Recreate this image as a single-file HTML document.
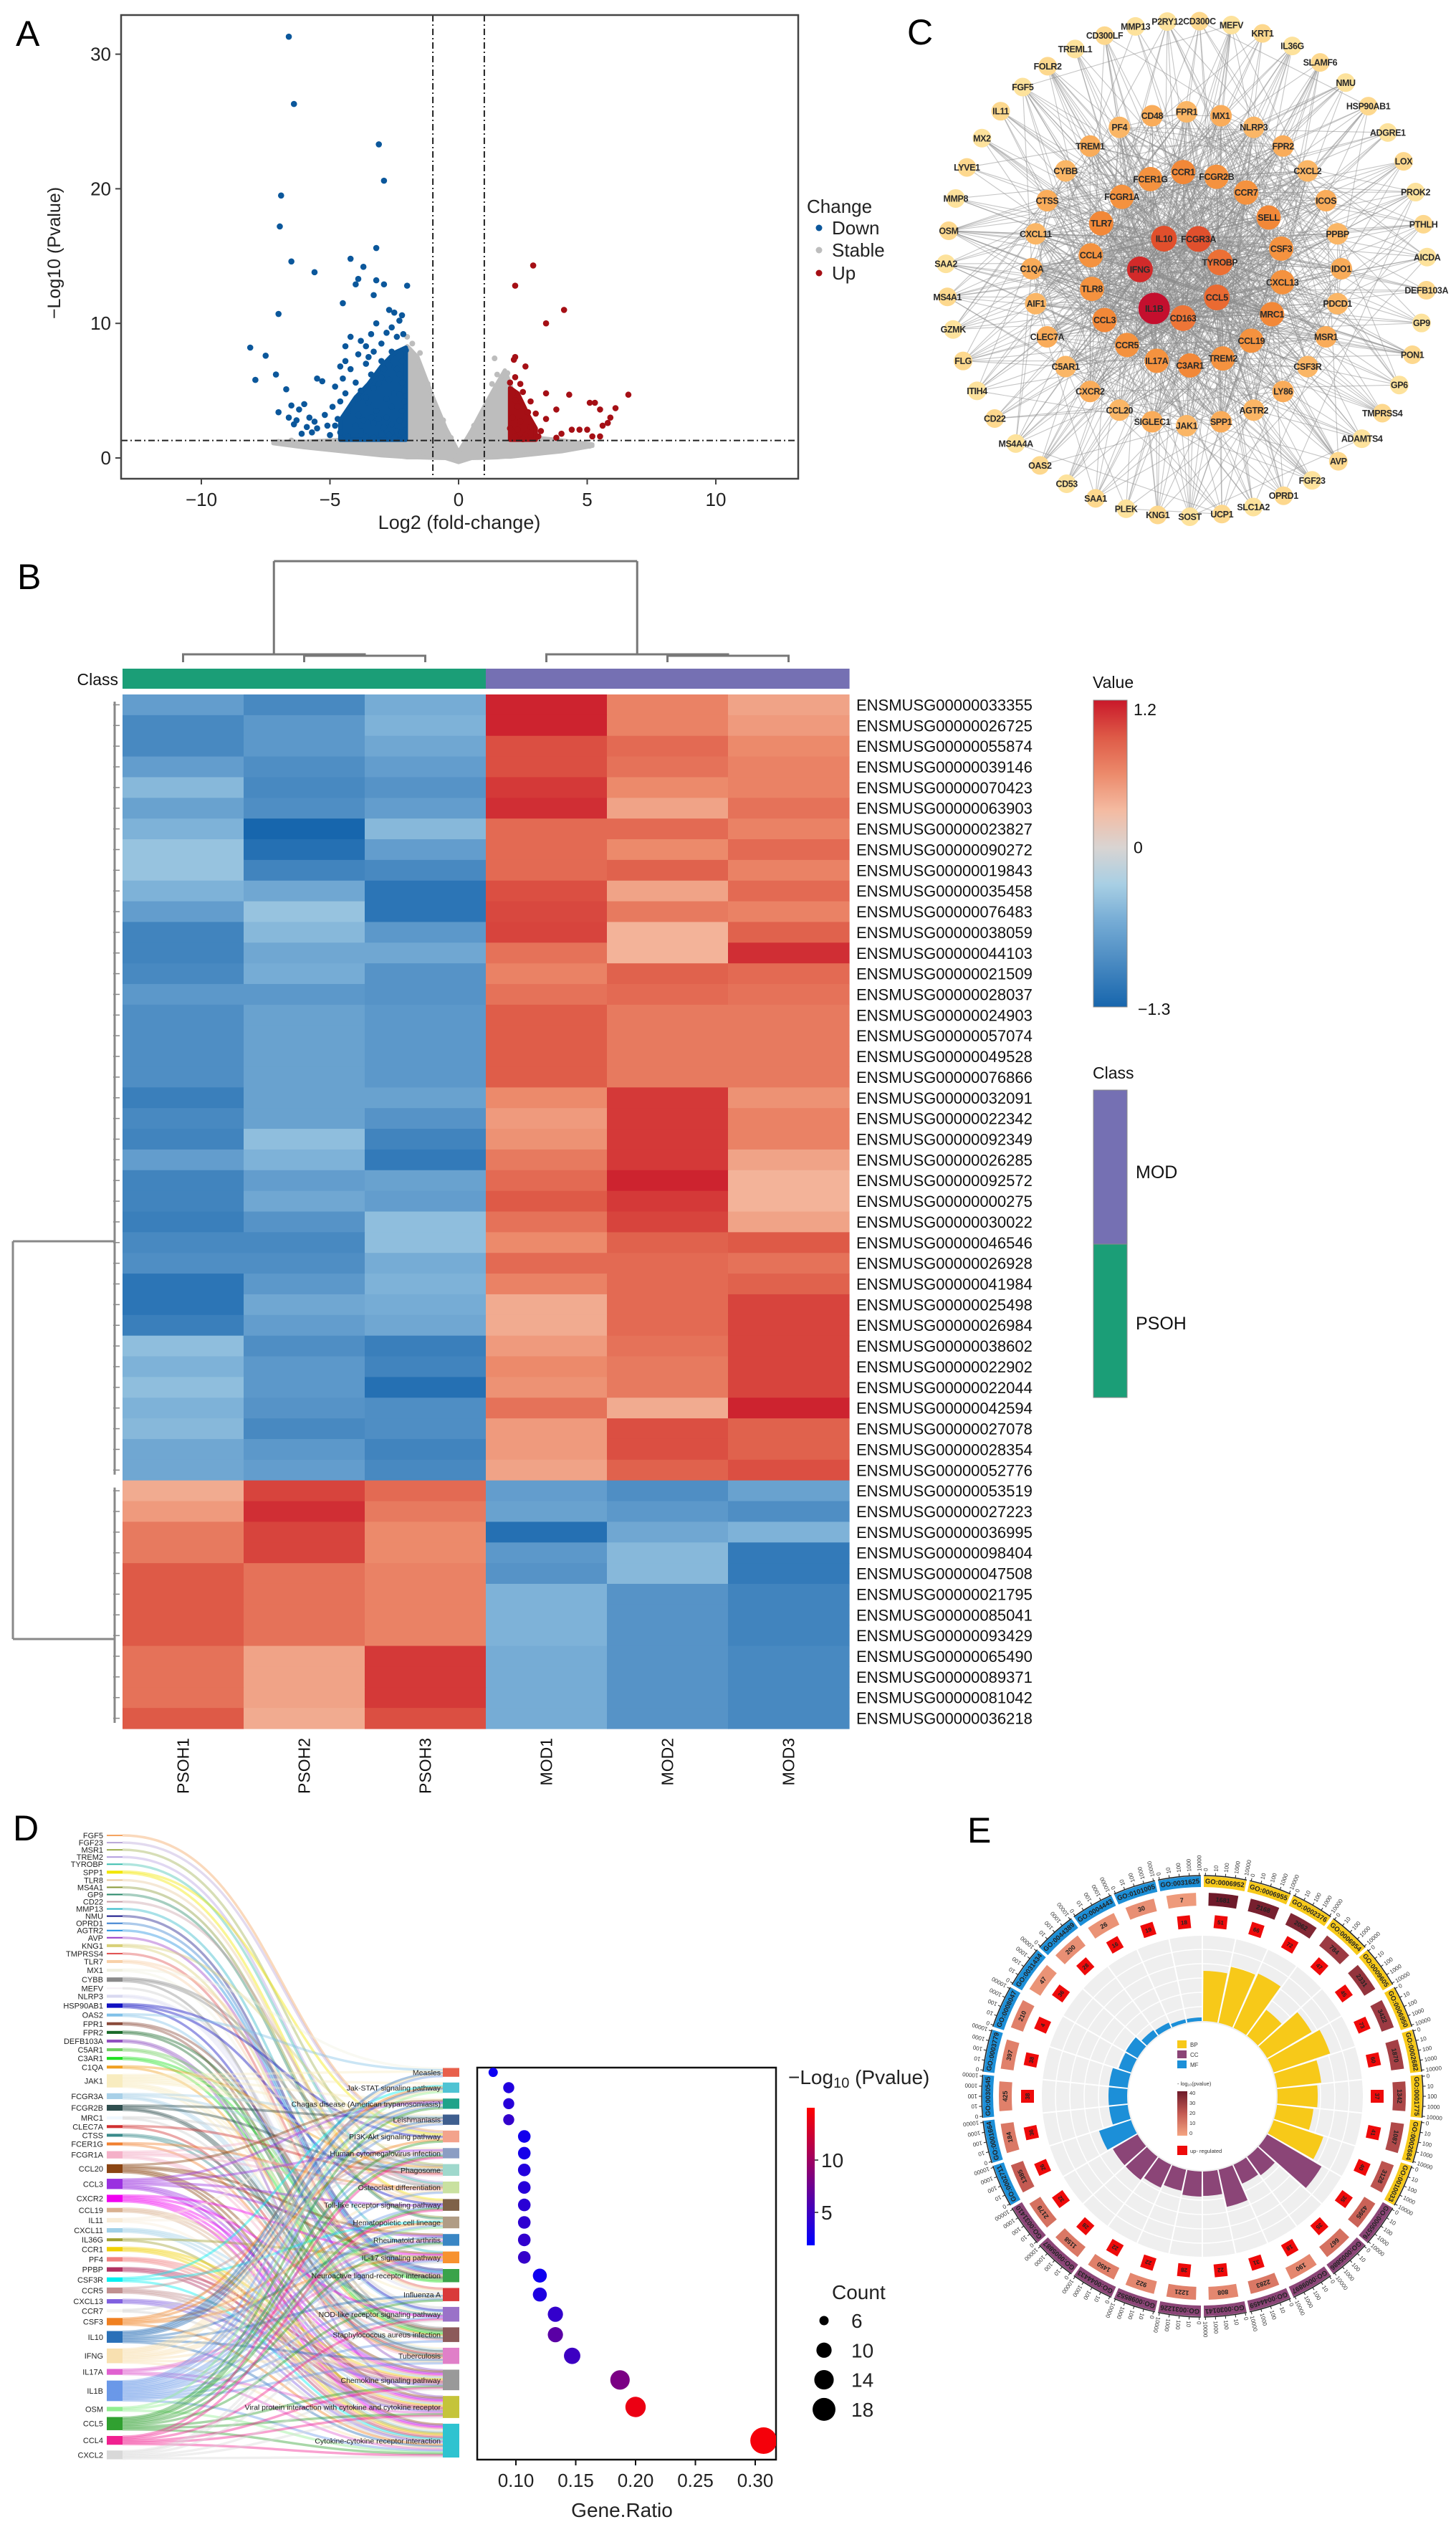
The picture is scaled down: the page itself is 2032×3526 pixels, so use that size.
<!DOCTYPE html>
<html><head><meta charset="utf-8">
<style>
html,body{margin:0;padding:0;background:#fff;}
svg{display:block;font-family:"Liberation Sans",Arial,sans-serif;}
</style></head>
<body>
<svg id="fig" width="2032" height="3526" viewBox="0 0 2032 3526" xmlns="http://www.w3.org/2000/svg">
<rect x="0" y="0" width="2032" height="3526" fill="#fff"/>
<g id="pA"></g>
<g id="pC"></g>
<g id="pB"></g>
<g id="pD"></g>
<g id="pE"></g>
</svg>
<script>
// ===================== DATA =====================
// Panel A: volcano
const downPoints=[[-6.6,31.3],[-6.4,26.3],[-3.1,23.3],[-2.9,20.6],[-6.9,19.5],[-6.95,17.2],[-3.2,15.6],[-6.5,14.6],[-4.2,14.8],[-3.7,14.2],[-5.6,13.8],[-3.9,13.3],[-4.0,12.9],[-3.2,13.2],[-2.9,12.9],[-2.0,12.8],[-3.3,12.1],[-4.5,11.5],[-2.7,11.0],[-2.5,10.8],[-7.0,10.7],[-3.2,10.0],[-2.2,10.6],[-8.1,8.2],[-7.5,7.6],[-7.1,6.2],[-7.9,5.8],[-6.7,5.1],[-7.0,3.4],[-6.5,3.9],[-6.2,3.6],[-5.5,5.9],[-5.3,5.7],[-4.8,5.3],[-4.4,4.8],[-4.2,9.0],[-4.4,8.3],[-3.8,8.7],[-3.6,8.3],[-3.4,9.2],[-2.8,9.3],[-2.4,9.0],[-4.6,6.8],[-4.2,6.6],[-3.6,7.0],[-3.0,7.2],[-2.6,7.9],[-6.0,4.0],[-5.8,3.0],[-5.1,2.4],[-5.5,2.2],[-4.9,3.8],[-6.3,2.8],[-6.1,1.8],[-4.6,1.9],[-4.0,2.4],[-3.9,3.2],[-3.5,4.1],[-3.1,5.5],[-2.7,5.8],[-2.3,6.2],[-2.5,4.8],[-2.2,3.5],[-2.8,3.0],[-3.3,2.6],[-2.4,2.0],[-3.0,1.8],[-3.6,1.6],[-4.3,1.6],[-5.0,1.7],[-2.1,5.0],[-2.1,4.2],[-2.3,2.8],[-2.6,3.8],[-3.2,3.5],[-3.8,5.0],[-4.1,4.1],[-3.4,6.2],[-2.9,6.6],[-2.2,7.2],[-2.1,1.6],[-2.9,2.3],[-3.7,2.8],[-4.7,2.9],[-5.7,1.9],[-2.5,1.5],[-3.4,3.0],[-3.1,2.9],[-2.8,4.4],[-2.6,2.5],[-2.3,4.7],[-2.2,5.6],[-2.4,6.6],[-2.7,6.9],[-3.0,6.0],[-3.3,5.2],[-3.6,4.5],[-3.9,4.4],[-4.3,3.4],[-4.6,4.2],[-3.5,7.5],[-3.9,7.7],[-4.4,7.2],[-2.1,2.5],[-2.2,1.9],[-2.7,1.7],[-3.3,1.5],[-3.8,2.0],[-4.8,2.4],[-5.2,3.2],[-5.6,2.7],[-5.9,2.3],[-6.4,2.5],[-6.6,3.0],[-2.05,8.0],[-2.15,9.2],[-2.3,10.2],[-2.6,9.7],[-3.0,8.5],[-3.3,7.9],[-4.0,5.6],[-4.5,5.9]];
const upPoints=[[2.9,14.3],[2.2,12.8],[4.1,11.0],[3.4,10.0],[2.2,7.5],[2.15,7.3],[2.6,6.8],[2.2,6.0],[2.0,5.6],[2.4,5.5],[3.4,4.8],[4.3,4.7],[6.6,4.7],[2.1,4.8],[2.5,4.9],[2.2,4.3],[2.8,4.2],[5.1,4.1],[5.3,4.1],[6.1,3.7],[2.3,3.8],[2.7,3.4],[3.0,3.3],[3.8,3.6],[5.5,3.6],[2.1,3.0],[2.4,2.7],[3.4,2.9],[5.9,3.0],[2.0,2.2],[2.3,2.1],[2.8,2.3],[3.2,2.0],[4.4,2.1],[4.7,2.1],[5.0,2.1],[5.6,2.4],[5.8,2.6],[2.2,1.6],[2.6,1.7],[3.1,1.6],[3.8,1.5],[5.2,1.6],[5.5,1.6],[4.0,1.8],[2.5,1.4]];
const stablePoints=[[-7.0,1.2],[-6.0,1.1],[-5.2,0.9],[-4.6,0.6],[-4.0,0.8],[-3.4,0.9],[-2.0,9.0],[-1.8,8.5],[-1.5,7.8],[-1.6,6.5],[-1.2,5.5],[-1.0,4.2],[-0.6,2.8],[-0.3,1.5],[0.3,1.2],[0.6,2.4],[1.0,3.6],[1.3,5.5],[1.5,6.2],[1.4,7.4],[1.7,5.1],[1.9,6.3],[3.2,1.2],[3.9,0.9],[4.4,1.0],[5.1,0.9],[-1.9,3.5],[-1.3,2.0],[1.2,1.8],[2.3,1.0],[-2.5,0.7],[-1.5,0.4],[1.5,0.5],[2.8,0.6],[-6.5,1.3],[-5.5,1.0]];
const stableEnvX=[-7.2,-6,-5,-4,-3,-2.2,-2.0,-1.6,-1.0,-0.5,0,0.5,1.0,1.5,1.8,2.0,2.5,3,4,5.2];
const stableEnvTop=[1.2,1.2,1.3,1.4,1.6,3.5,8.3,7.5,4.5,2.2,0.4,2.0,3.8,5.5,6.5,5.5,2.5,1.5,1.3,1.0];
const stableEnvBot=[1.1,0.8,0.6,0.4,0.2,0.1,0.05,0.05,0.02,0,-0.3,0,0.02,0.05,0.1,0.1,0.2,0.3,0.5,0.9];
const downEnvX=[-4.6,-4,-3.5,-3,-2.5,-2.05];
const downEnvTop=[2.8,4.5,5.5,6.8,7.8,8.2];
const downEnvBot=[1.35,1.35,1.35,1.35,1.35,1.35];
const upEnvX=[2.0,2.3,2.7,3.0];
const upEnvTop=[5.2,4.8,3.2,2.2];
const upEnvBot=[1.35,1.35,1.35,1.35];
const volXTicks=[-10,-5,0,5,10];
const volYTicks=[0,10,20,30];
const fcCut=1, pCut=1.3;

// Panel B: heatmap
const sampleNames=["PSOH1","PSOH2","PSOH3","MOD1","MOD2","MOD3"];
const sampleClass=["PSOH","PSOH","PSOH","MOD","MOD","MOD"];
const geneIds=["ENSMUSG00000033355","ENSMUSG00000026725","ENSMUSG00000055874","ENSMUSG00000039146","ENSMUSG00000070423","ENSMUSG00000063903","ENSMUSG00000023827","ENSMUSG00000090272","ENSMUSG00000019843","ENSMUSG00000035458","ENSMUSG00000076483","ENSMUSG00000038059","ENSMUSG00000044103","ENSMUSG00000021509","ENSMUSG00000028037","ENSMUSG00000024903","ENSMUSG00000057074","ENSMUSG00000049528","ENSMUSG00000076866","ENSMUSG00000032091","ENSMUSG00000022342","ENSMUSG00000092349","ENSMUSG00000026285","ENSMUSG00000092572","ENSMUSG00000000275","ENSMUSG00000030022","ENSMUSG00000046546","ENSMUSG00000026928","ENSMUSG00000041984","ENSMUSG00000025498","ENSMUSG00000026984","ENSMUSG00000038602","ENSMUSG00000022902","ENSMUSG00000022044","ENSMUSG00000042594","ENSMUSG00000027078","ENSMUSG00000028354","ENSMUSG00000052776","ENSMUSG00000053519","ENSMUSG00000027223","ENSMUSG00000036995","ENSMUSG00000098404","ENSMUSG00000047508","ENSMUSG00000021795","ENSMUSG00000085041","ENSMUSG00000093429","ENSMUSG00000065490","ENSMUSG00000089371","ENSMUSG00000081042","ENSMUSG00000036218"];
const heatValues=[
[-0.75,-0.95,-0.6,1.15,0.65,0.45],[-0.95,-0.8,-0.55,1.15,0.65,0.5],[-0.95,-0.8,-0.65,0.95,0.8,0.6],[-0.75,-0.9,-0.75,0.95,0.75,0.65],[-0.5,-0.95,-0.85,1.05,0.6,0.65],[-0.7,-0.9,-0.75,1.1,0.45,0.75],[-0.55,-1.3,-0.5,0.8,0.8,0.65],[-0.4,-1.2,-0.75,0.8,0.6,0.8],[-0.4,-1.0,-0.95,0.8,0.85,0.65],[-0.55,-0.65,-1.15,0.95,0.45,0.8],
[-0.75,-0.4,-1.15,0.98,0.7,0.65],[-1.0,-0.5,-0.8,1.0,0.35,0.85],[-1.0,-0.65,-0.65,0.75,0.35,1.1],[-0.95,-0.6,-0.85,0.65,0.85,0.8],[-0.8,-0.8,-0.85,0.75,0.8,0.75],[-0.9,-0.7,-0.8,0.88,0.7,0.7],[-0.9,-0.7,-0.8,0.88,0.7,0.7],[-0.9,-0.7,-0.8,0.88,0.7,0.7],[-0.9,-0.7,-0.8,0.88,0.7,0.7],[-1.05,-0.7,-0.7,0.6,1.05,0.55],
[-0.95,-0.7,-0.85,0.5,1.05,0.65],[-1.0,-0.45,-1.0,0.55,1.05,0.65],[-0.75,-0.55,-1.1,0.7,1.05,0.45],[-1.0,-0.75,-0.7,0.8,1.15,0.35],[-1.0,-0.65,-0.75,0.9,1.05,0.35],[-1.05,-0.85,-0.45,0.75,1.0,0.45],[-0.95,-0.95,-0.45,0.6,0.85,0.9],[-0.9,-0.9,-0.6,0.8,0.8,0.75],[-1.15,-0.8,-0.55,0.65,0.8,0.85],[-1.15,-0.65,-0.6,0.4,0.8,1.0],
[-1.05,-0.75,-0.65,0.4,0.8,1.0],[-0.45,-0.9,-1.05,0.5,0.75,1.0],[-0.55,-0.8,-1.0,0.6,0.7,1.0],[-0.45,-0.8,-1.2,0.55,0.7,1.0],[-0.55,-0.85,-0.9,0.75,0.4,1.15],[-0.5,-0.95,-0.9,0.5,0.95,0.85],[-0.65,-0.8,-1.0,0.5,0.95,0.85],[-0.65,-0.75,-0.95,0.45,0.85,0.95],[0.4,1.0,0.8,-0.75,-0.9,-0.7],[0.5,1.1,0.7,-0.7,-0.8,-0.9],
[0.7,1.0,0.6,-1.2,-0.65,-0.55],[0.7,1.0,0.6,-0.8,-0.5,-1.1],[0.9,0.75,0.65,-0.85,-0.5,-1.1],[0.9,0.75,0.65,-0.55,-0.85,-1.0],[0.9,0.75,0.65,-0.55,-0.85,-1.0],[0.9,0.75,0.65,-0.55,-0.85,-1.0],[0.75,0.45,1.05,-0.6,-0.85,-0.95],[0.75,0.45,1.05,-0.6,-0.85,-0.95],[0.75,0.45,1.05,-0.6,-0.85,-0.95],[0.9,0.4,0.95,-0.6,-0.85,-0.95]];
const clusterSplit=38;
const valueTicks=[1.2,0,-1.3];

// Panel C: network
const coreNodes=["IL10","FCGR3A","TYROBP","CCL5","CD163","IL1B","IFNG"];
const coreColors=["#e14f2c","#e0502d","#ec7035","#ea6a32","#ee7537","#c40f2e","#d22a2a"];
const innerNodes=["CCR1","FCGR2B","CCR7","SELL","CSF3","CXCL13","MRC1","CCL19","TREM2","C3AR1","IL17A","CCR5","CCL3","TLR8","CCL4","TLR7","FCGR1A","FCER1G"];
const middleNodes=["FPR1","MX1","NLRP3","FPR2","CXCL2","ICOS","PPBP","IDO1","PDCD1","MSR1","CSF3R","LY86","AGTR2","SPP1","JAK1","SIGLEC1","CCL20","CXCR2","C5AR1","CLEC7A","AIF1","C1QA","CXCL11","CTSS","CYBB","TREM1","PF4","CD48"];
const outerNodes=["P2RY12","CD300C","MEFV","KRT1","IL36G","SLAMF6","NMU","HSP90AB1","ADGRE1","LOX","PROK2","PTHLH","AICDA","DEFB103A","GP9","PON1","GP6","TMPRSS4","ADAMTS4","AVP","FGF23","OPRD1","SLC1A2","UCP1","SOST","KNG1","PLEK","SAA1","CD53","OAS2","MS4A4A","CD22","ITIH4","FLG","GZMK","MS4A1","SAA2","OSM","MMP8","LYVE1","MX2","IL11","FGF5","FOLR2","TREML1","CD300LF","MMP13"];

// Panel D: sankey + dot plot
const sankeyGenes=["FGF5","FGF23","MSR1","TREM2","TYROBP","SPP1","TLR8","MS4A1","GP9","CD22","MMP13","NMU","OPRD1","AGTR2","AVP","KNG1","TMPRSS4","TLR7","MX1","CYBB","MEFV","NLRP3","HSP90AB1","OAS2","FPR1","FPR2","DEFB103A","C5AR1","C3AR1","C1QA","JAK1","FCGR3A","FCGR2B","MRC1","CLEC7A","CTSS","FCER1G","FCGR1A","CCL20","CCL3","CXCR2","CCL19","IL11","CXCL11","IL36G","CCR1","PF4","PPBP","CSF3R","CCR5","CXCL13","CCR7","CSF3","IL10","IFNG","IL17A","IL1B","OSM","CCL5","CCL4","CXCL2"];
const geneLinks=["e","e","g","h","h","ei","i","j","j","h","l","m","m","m","m","em","n","in","an","ghp","o","no","eio","ao","mp","mp","rs","mp","mp","gp","abcdefnoq","dgpq","dgpq","gq","gq","oq","hq","dghpq","cklrst","cfikrst","lorst","rst","bjt","rst","lt","rst","rst","rst","bjt","frst","rst","ft","bejlt","abcdknqt","abcdhjknqt","klst","acdfhijklnopqt","bjt","cefiknrst","fiorst","klorst"];
const geneColors=['#f4a460','#b9a8d8','#9fb050','#b4a0e0','#40c0b0','#f2e600','#e8c89a','#8a9a3a','#2a8a6a','#c8a0a8','#30b8c8','#1a1a8a','#3a80d0','#2090e0','#9a40c8','#d8d078','#e05050','#f8d0a8','#f0f0e0','#8a8a8a','#f4f0f4','#d8d8f0','#1010c0','#80c0e8','#8a4a3a','#1a6a2a','#9050c0','#70d060','#20e020','#f0a020','#f8ecc0','#a8d0e8','#2f4f4f','#f0f8ff','#d03030','#3a8a8a','#f08030','#f4b0c8','#8b4513','#9a30e0','#f000f0','#d8b090','#f8ecd8','#a0d0e8','#a0a030','#f0d000','#f08080','#b03060','#00f0f0','#c09090','#8060e0','#f4f4f0','#f08020','#2a70b8','#f8e0b0','#e060d0','#6a98e8','#90ee90','#30a030','#f02090','#d8d8d8'];
const pathwayNames=["Measles","Jak-STAT signaling pathway","Chagas disease (American trypanosomiasis)","Leishmaniasis","PI3K-Akt signaling pathway","Human cytomegalovirus infection","Phagosome","Osteoclast differentiation","Toll-like receptor signaling pathway","Hematopoietic cell lineage","Rheumatoid arthritis","IL-17 signaling pathway","Neuroactive ligand-receptor interaction","Influenza A","NOD-like receptor signaling pathway","Staphylococcus aureus infection","Tuberculosis","Chemokine signaling pathway","Viral protein interaction with cytokine and cytokine receptor","Cytokine-cytokine receptor interaction"];
const pathwayColors=["#e8604c","#4fc3d3","#1fa38a","#3f5f8f","#f3a38c","#8b9dc3","#9fd8cc","#c9e1a0","#7e6148","#b09c85","#3a86c4","#f7922f","#3aa34a","#d93a3a","#9a72c8","#8c5a5a","#e07fc8","#999999","#c5c43a","#2ec3d0"];
const pathwayCount=[6,7,7,7,8,8,8,8,8,8,8,8,9,9,10,10,11,14,15,23];
const pathwayRatio=[0.081,0.094,0.094,0.094,0.107,0.107,0.107,0.107,0.107,0.107,0.107,0.107,0.120,0.120,0.133,0.133,0.147,0.187,0.200,0.307];
const pathwayPval=[2.5,3.5,3.8,4.5,2.8,3.0,3.6,3.8,4.0,4.2,4.4,4.6,2.6,3.4,4.5,6.5,5.0,8.2,14.0,14.5];
const ratioTicks=[0.10,0.15,0.20,0.25,0.30];
const pvalTicks=[5,10];
const countLegend=[6,10,14,18];

// Panel E: GO circle
const goIds=["GO:0006952","GO:0006955","GO:0002376","GO:0006954","GO:0009605","GO:0006950","GO:0002682","GO:0001775","GO:0002684","GO:0010033","GO:0005576","GO:0005886","GO:0009897","GO:0044459","GO:0030141","GO:0031226","GO:0098552","GO:0044433","GO:0005887","GO:0031410","GO:0002711","GO:0001664","GO:0030545","GO:0003779","GO:0008047","GO:0031434","GO:0044389","GO:0004443","GO:0101005","GO:0031625"];
const goCategory=["BP","BP","BP","BP","BP","BP","BP","BP","BP","BP","CC","CC","CC","CC","CC","CC","CC","CC","CC","CC","MF","MF","MF","MF","MF","MF","MF","MF","MF","MF"];
const goBar=[70,80,83,45,72,83,62,56,51,73,88,32,29,53,34,35,30,35,40,40,47,26,26,26,18,19,10,8,5,5];
const goCount=[1681,2168,2062,784,2331,3422,1870,1342,1087,3128,4395,667,190,2283,808,1221,922,1450,1158,2179,1385,184,425,397,210,47,200,26,30,7];
const goPval=[40,38,36,30,32,30,28,26,25,22,18,14,8,12,8,10,8,10,12,14,20,12,10,10,10,5,6,5,6,3];
const goUp=[51,66,72,47,45,73,60,37,41,40,35,35,18,31,22,28,22,22,28,32,26,36,38,38,4,36,28,16,19,18];
const axisTickLabels=["0","10","100","1000","10000"];

// ===================== HELPERS =====================
const NS="http://www.w3.org/2000/svg";
function mk(tag,attrs,parent){const e=document.createElementNS(NS,tag);for(const k in attrs)e.setAttribute(k,attrs[k]);if(parent)parent.appendChild(e);return e;}
function txt(s,attrs,parent){const e=mk("text",attrs,parent);e.textContent=s;return e;}
function lerpColor(stops,v){ // stops [[v,'#rrggbb']]
  if(v<=stops[0][0])return stops[0][1];
  for(let i=1;i<stops.length;i++){if(v<=stops[i][0]){const a=stops[i-1],b=stops[i];const t=(v-a[0])/(b[0]-a[0]);const ca=hex(a[1]),cb=hex(b[1]);return "rgb("+ca.map((c,j)=>Math.round(c+(cb[j]-c)*t)).join(",")+")";}}
  return stops[stops.length-1][1];}
function hex(h){return [parseInt(h.substr(1,2),16),parseInt(h.substr(3,2),16),parseInt(h.substr(5,2),16)];}

// ===================== PANEL A =====================
(function(){
const g=document.getElementById("pA");
const xA=v=>640+v*35.9, yA=v=>639-v*18.78;
let t=txt("A",{x:22,y:64,"font-size":50},g);


const clip=mk("clipPath",{id:"clipA"},g);mk("rect",{x:169,y:21,width:945,height:647},clip);
const pg=mk("g",{"clip-path":"url(#clipA)"},g);
function env(xs,top,bot,fill,name){let d="M"+xs.map((x,i)=>xA(x)+","+yA(top[i])).join(" L");for(let i=xs.length-1;i>=0;i--)d+=" L"+xA(xs[i])+","+yA(bot[i]);d+="Z";const p=mk("path",{d:d,fill:fill,stroke:fill,"stroke-width":6,"stroke-linejoin":"round"},pg);

}
env(stableEnvX,stableEnvTop,stableEnvBot,"#bdbdbd","stable-density");
stablePoints.forEach(p=>{const c=mk("circle",{cx:xA(p[0]),cy:yA(p[1]),r:4,fill:"#bdbdbd"},pg);

});
env(downEnvX,downEnvTop,downEnvBot,"#0b579b","down-density");
env(upEnvX,upEnvTop,upEnvBot,"#a50f15","up-density");
downPoints.forEach(p=>{const c=mk("circle",{cx:xA(p[0]),cy:yA(p[1]),r:4.3,fill:"#0b579b"},pg);

});
upPoints.forEach(p=>{const c=mk("circle",{cx:xA(p[0]),cy:yA(p[1]),r:4.3,fill:"#a50f15"},pg);

});
[-fcCut,fcCut].forEach(v=>{const l=mk("line",{x1:xA(v),x2:xA(v),y1:21,y2:668,stroke:"#222","stroke-width":2,"stroke-dasharray":"9,4,2,4"},pg);

});
let hl=mk("line",{x1:169,x2:1114,y1:yA(pCut),y2:yA(pCut),stroke:"#222","stroke-width":2,"stroke-dasharray":"9,4,2,4"},pg);


let box=mk("rect",{x:169,y:21,width:945,height:647,fill:"none",stroke:"#444","stroke-width":2.5},g);


volXTicks.forEach(v=>{mk("line",{x1:xA(v),x2:xA(v),y1:668,y2:676,stroke:"#444","stroke-width":2},g);
const l=txt((v<0?"\u2212":"")+Math.abs(v),{x:xA(v),y:706,"text-anchor":"middle","font-size":26,fill:"#222"},g);

});
volYTicks.forEach(v=>{mk("line",{x1:161,x2:169,y1:yA(v),y2:yA(v),stroke:"#444","stroke-width":2},g);
const l=txt(String(v),{x:155,y:yA(v)+9,"text-anchor":"end","font-size":26,fill:"#222"},g);

});
t=txt("Log2 (fold-change)",{x:641,y:738,"text-anchor":"middle","font-size":27,fill:"#222"},g);


t=txt("\u2212Log10 (Pvalue)",{x:0,y:0,"text-anchor":"middle","font-size":25,fill:"#222",transform:"translate(84,353) rotate(-90)"},g);


t=txt("Change",{x:1126,y:297,"font-size":26,fill:"#222"},g);


[["Down","#0b579b",327],["Stable","#bdbdbd",358],["Up","#a50f15",390]].forEach(e=>{
const lg=mk("g",{},g);


mk("circle",{cx:1143,cy:e[2]-9,r:4.5,fill:e[1]},lg);txt(e[0],{x:1161,y:e[2],"font-size":26,fill:"#222"},lg);});
})();

// ===================== PANEL C =====================
(function(){
const g=document.getElementById("pC");
let t=txt("C",{x:1266,y:62,"font-size":50},g);


const cx=1656,cy=375;
const nodes=[];
const coreAng=[-24,25,70,120,177,220,280];
coreNodes.forEach((n,i)=>{const a=coreAng[i]*Math.PI/180;nodes.push({n:n,lv:0,x:1648+58*Math.sin(a),y:386-58*Math.cos(a),r:n==="IL1B"?22:18,c:coreColors[i]});});
innerNodes.forEach((n,i)=>{const a=(-2+i*360/innerNodes.length)*Math.PI/180;nodes.push({n:n,lv:1,x:cx+135*Math.sin(a),y:cy-135*Math.cos(a),r:17,c:i%3===0?"#f28838":"#f4923f"});});
middleNodes.forEach((n,i)=>{const a=(i*360/middleNodes.length)*Math.PI/180;nodes.push({n:n,lv:2,x:cx+216*Math.sin(a),y:cy-219*Math.cos(a),r:15,c:i%2?"#f9ac5a":"#fab666"});});
outerNodes.forEach((n,i)=>{const a=(-4.6+i*360/outerNodes.length)*Math.PI/180;nodes.push({n:n,lv:3,x:cx+336*Math.sin(a),y:cy-346*Math.cos(a),r:13,c:i%2?"#fdd88e":"#fde29c"});});
const P=[[1,.9,.8,.5],[.9,.55,.4,.14],[.8,.4,.22,.08],[.5,.14,.08,.01]];
const eg=mk("g",{stroke:"#8c8c8c","stroke-width":1.1,"stroke-opacity":0.5},g);


for(let i=0;i<nodes.length;i++)for(let j=i+1;j<nodes.length;j++){
 const h=(((i+1)*73856093)^((j+1)*19349663))>>>0; const u=(h%1000)/1000;
 if(u<P[nodes[i].lv][nodes[j].lv]) mk("line",{x1:nodes[i].x.toFixed(1),y1:nodes[i].y.toFixed(1),x2:nodes[j].x.toFixed(1),y2:nodes[j].y.toFixed(1)},eg);}
nodes.forEach(nd=>{const ng=mk("g",{},g);


mk("circle",{cx:nd.x,cy:nd.y,r:nd.r,fill:nd.c},ng);
txt(nd.n,{x:nd.x,y:nd.y+4.5,"text-anchor":"middle","font-size":12.5,"font-weight":"bold",fill:"#2a2a2a","letter-spacing":"-0.4"},ng);});
})();

// ===================== PANEL B =====================
(function(){
const g=document.getElementById("pB");
let t=txt("B",{x:24,y:822,"font-size":50},g);


const x0=171,cw=169,y0=969,rh=28.86;
const stops=[[-1.3,"#1766ad"],[-0.9,"#4f8ec4"],[-0.6,"#76acd5"],[-0.3,"#a8cfe4"],[0,"#d9d4d2"],[0.3,"#f4bba2"],[0.6,"#ec8a6b"],[0.9,"#de5a47"],[1.2,"#c9182a"]];
const hg=mk("g",{},g);


heatValues.forEach((row,r)=>row.forEach((v,c)=>{const rc=mk("rect",{x:x0+c*cw,y:y0+r*rh,width:cw+0.6,height:rh+0.6,fill:lerpColor(stops,v)},hg);

}));
geneIds.forEach((n,r)=>{const l=txt(n,{x:1195,y:y0+r*rh+rh/2+8,"font-size":22,fill:"#111"},g);

});
sampleNames.forEach((n,c)=>{const l=txt(n,{x:0,y:0,"text-anchor":"end","font-size":23,fill:"#111",transform:"translate("+(x0+c*cw+cw/2+8)+",2425) rotate(-90)"},g);


const cb=mk("rect",{x:x0+c*cw,y:933,width:cw+0.6,height:28,fill:sampleClass[c]==="PSOH"?"#1b9e77":"#7570b3"},g);

});
t=txt("Class",{x:165,y:956,"text-anchor":"end","font-size":23,fill:"#111"},g);


// column dendrogram
const cxs=sampleNames.map((_,c)=>x0+c*cw+cw/2);
const dg=mk("g",{stroke:"#777","stroke-width":3,fill:"none"},g);


[[0,1,2],[3,4,5]].forEach(gr=>{const a=cxs[gr[0]],b=cxs[gr[1]],c=cxs[gr[2]];const m=(b+c)/2,top=(a+m)/2;
mk("path",{d:`M${b},924V915H${c}V924 M${a},924V913H${m}V915 M${top},913V783`},dg);});
mk("path",{d:`M${(cxs[0]+(cxs[1]+cxs[2])/2)/2},783H${(cxs[3]+(cxs[4]+cxs[5])/2)/2}`},dg);
// row dendrogram
const rg=mk("g",{stroke:"#888","stroke-width":3,fill:"none"},g);


const yEnd=y0+heatValues.length*rh, ySplit=y0+clusterSplit*rh;
mk("path",{d:`M160,${y0+10}V${ySplit-8} M160,${ySplit+10}V${yEnd-8} M18,1732V2287 M18,1732H160 M18,2287H160`},rg);
for(let r=0;r<heatValues.length;r++)mk("line",{x1:158,x2:167,y1:y0+r*rh+rh/2,y2:y0+r*rh+rh/2,"stroke-width":1.5},rg);
// value legend
t=txt("Value",{x:1525,y:960,"font-size":23,fill:"#111"},g);


const defs=mk("defs",{},g);const lgr=mk("linearGradient",{id:"valGrad",x1:0,y1:0,x2:0,y2:1},defs);
const vmax=1.2,vmin=-1.3;
stops.slice().reverse().forEach(s=>mk("stop",{offset:((vmax-s[0])/(vmax-vmin)),"stop-color":s[1]},lgr));
const cbar=mk("rect",{x:1526,y:977,width:47,height:428,fill:"url(#valGrad)",stroke:"#888","stroke-width":1},g);


valueTicks.forEach(v=>{const yy=977+(vmax-v)/(vmax-vmin)*428;const l=txt(v<0?"\u2212"+Math.abs(v):String(v),{x:v<0?1588:1582,y:v===vmax?998:(v===vmin?1416:yy+8),"font-size":23,fill:"#111"},g);

});
t=txt("Class",{x:1525,y:1505,"font-size":23,fill:"#111"},g);


let r1=mk("rect",{x:1526,y:1521,width:47,height:215,fill:"#7570b3",stroke:"#888","stroke-width":1},g);


let r2=mk("rect",{x:1526,y:1736,width:47,height:214,fill:"#1b9e77",stroke:"#888","stroke-width":1},g);


t=txt("MOD",{x:1585,y:1644,"font-size":25,fill:"#111"},g);


t=txt("PSOH",{x:1585,y:1855,"font-size":25,fill:"#111"},g);


})();

// ===================== PANEL D =====================
(function(){
const g=document.getElementById("pD");
let t=txt("D",{x:18,y:2568,"font-size":50},g);


const unit=2.05;
const pIdx=ch=>ch.charCodeAt(0)-97;
// gene positions
const gTop=[];let y=2560;const gGap=8.0;
sankeyGenes.forEach((n,i)=>{gTop.push(y);y+=geneLinks[i].length*unit+gGap;});
// pathway sizes from links
const pTot=pathwayNames.map(()=>0);
geneLinks.forEach(s=>s.split("").forEach(ch=>pTot[pIdx(ch)]++));
const pTop=[];y=2885.5;pathwayNames.forEach((n,i)=>{pTop.push(y);y+=pTot[i]*unit+8;});
const pCenter=pTop.map((v,i)=>v+pTot[i]*unit/2);
// links
const lg=mk("g",{fill:"none","stroke-opacity":0.42,"stroke-width":3.4},g);


const pOff=pathwayNames.map(()=>0);
sankeyGenes.forEach((n,i)=>{geneLinks[i].split("").forEach((ch,k)=>{const p=pIdx(ch);
 const y0=gTop[i]+k*unit+unit/2, y1=pTop[p]+pOff[p]*unit+unit/2; pOff[p]++;
 const x0=171,x1=618,xm=(x0+x1)/2;
 const pth=mk("path",{d:`M${x0},${y0.toFixed(1)} C${xm},${y0.toFixed(1)} ${xm},${y1.toFixed(1)} ${x1},${y1.toFixed(1)}`,stroke:geneColors[i]==="#f0f8ff"||geneColors[i]==="#f4f4f0"||geneColors[i]==="#f4f0f4"?"#cccccc":geneColors[i]},lg);
 
 });});
sankeyGenes.forEach((n,i)=>{const h=geneLinks[i].length*unit;
 const b=mk("rect",{x:149,y:gTop[i],width:22,height:h,fill:geneColors[i]},g);
 
 
 const l=txt(n,{x:144,y:gTop[i]+h/2+4,"text-anchor":"end","font-size":11,fill:"#222"},g);
 
 });
pathwayNames.forEach((n,i)=>{const h=pTot[i]*unit;
 const b=mk("rect",{x:618,y:pTop[i],width:23,height:h,fill:pathwayColors[i]},g);
 
 
 const l=txt(n,{x:615,y:pCenter[i]+4,"text-anchor":"end","font-size":10.5,fill:"#222"},g);
 
 });
// dot plot
const xR=v=>720+(v-0.1)*1670;
const pvMin=1.85,pvMax=15;
const pvColor=v=>{const tt=Math.max(0,Math.min(1,(v-pvMin)/(pvMax-pvMin)));return "rgb("+Math.round(255*tt)+",0,"+Math.round(255*(1-tt))+")";};
const rC=c=>Math.sqrt(Math.max(4,-65+17.8*c));
const fr=mk("rect",{x:666,y:2885,width:417,height:547,fill:"none",stroke:"#111","stroke-width":2.5},g);


const cl=mk("clipPath",{id:"clipD"},g);mk("rect",{x:666,y:2885,width:417,height:547},cl);
const dg=mk("g",{"clip-path":"url(#clipD)"},g);
pathwayNames.forEach((n,i)=>{const d=mk("circle",{cx:xR(pathwayRatio[i]),cy:pCenter[i],r:rC(pathwayCount[i]),fill:pvColor(pathwayPval[i])},dg);
 
 });
ratioTicks.forEach(v=>{mk("line",{x1:xR(v),x2:xR(v),y1:3432,y2:3440,stroke:"#111","stroke-width":2},g);
 const l=txt(v.toFixed(2),{x:xR(v),y:3470,"text-anchor":"middle","font-size":26,fill:"#222"},g);
 
 });
t=txt("Gene.Ratio",{x:868,y:3512,"text-anchor":"middle","font-size":28,fill:"#222"},g);


t=mk("text",{x:1100,y:2908,"font-size":28,fill:"#222"},g);
t.innerHTML='\u2212Log<tspan baseline-shift="-25%" font-size="20">10</tspan> (Pvalue)';


const defs=mk("defs",{},g);const gr=mk("linearGradient",{id:"pvGrad",x1:0,y1:1,x2:0,y2:0},defs);
[0,0.5,1].forEach(o=>mk("stop",{offset:o,"stop-color":pvColor(pvMin+o*(pvMax-pvMin))},gr));
const cb=mk("rect",{x:1126,y:2941,width:11,height:192,fill:"url(#pvGrad)"},g);


const yP=v=>3133-(v-pvMin)/(pvMax-pvMin)*192;
pvalTicks.forEach(v=>{mk("line",{x1:1137,x2:1142,y1:yP(v),y2:yP(v),stroke:"#222","stroke-width":1.5},g);
 const l=txt(String(v),{x:1146,y:yP(v)+10,"font-size":28,fill:"#222"},g);
 
 });
t=txt("Count",{x:1161,y:3208,"font-size":28,fill:"#222"},g);


countLegend.forEach((c,i)=>{const yy=3248+i*41.3;const e=mk("g",{},g);
 
 
 mk("circle",{cx:1150,cy:yy-10,r:rC(c),fill:"#000"},e);txt(String(c),{x:1188,y:yy,"font-size":28,fill:"#222"},e);});
})();

// ===================== PANEL E =====================
(function(){
const g=document.getElementById("pE");
let t=txt("E",{x:1350,y:2571,"font-size":50},g);


const cx=1678,cy=2925,N=goIds.length,seg=360/N;
const P=(r,a)=>[cx+r*Math.sin(a*Math.PI/180),cy-r*Math.cos(a*Math.PI/180)];
function sector(r0,r1,a0,a1){const p1=P(r1,a0),p2=P(r1,a1),p3=P(r0,a1),p4=P(r0,a0);const lf=(a1-a0)>180?1:0;
 return `M${p1[0].toFixed(1)},${p1[1].toFixed(1)} A${r1},${r1} 0 ${lf} 1 ${p2[0].toFixed(1)},${p2[1].toFixed(1)} L${p3[0].toFixed(1)},${p3[1].toFixed(1)} A${r0},${r0} 0 ${lf} 0 ${p4[0].toFixed(1)},${p4[1].toFixed(1)}Z`;}
const catColor={BP:"#f7c919",CC:"#8b4577",MF:"#1c8fd8"};
const bg=mk("circle",{cx:cx,cy:cy,r:224,fill:"#efefef"},g);


for(let k=1;k<=5;k++)mk("circle",{cx:cx,cy:cy,r:105+k*20,fill:"none",stroke:"#fff","stroke-width":1.5},g);
for(let i=0;i<N;i++){const a=P(105,i*seg),b=P(224,i*seg);mk("line",{x1:a[0],y1:a[1],x2:b[0],y2:b[1],stroke:"#fff","stroke-width":2},g);}
mk("circle",{cx:cx,cy:cy,r:103,fill:"#fff"},g);
const sc=1.0;
goIds.forEach((id,i)=>{const a0=i*seg,a1=(i+1)*seg,am=a0+seg/2;
 const bar=mk("path",{d:sector(105,105+goBar[i]*sc,a0+0.5,a1-0.5),fill:catColor[goCategory[i]]},g);
 
 
 // up-regulated squares
 const sp=P(244,am);const sq=mk("g",{transform:`translate(${sp[0].toFixed(1)},${sp[1].toFixed(1)}) rotate(${am})`},g);
 
 
 mk("rect",{x:-9,y:-9,width:18,height:18,fill:"#ee0a0a"},sq);
 txt(String(goUp[i]),{x:0,y:3,"text-anchor":"middle","font-size":8,"font-weight":"bold",fill:"#222"},sq);
 // count boxes
 const cbx=mk("path",{d:sector(266,284,a0+1.8,a1-1.8),fill:lerpColor([[0,"#f4a582"],[10,"#e0806a"],[20,"#c45a52"],[30,"#9c3a42"],[40,"#6e1a2a"]],goPval[i])},g);
 
 
 const cp=P(275,am);const ct=txt(String(goCount[i]),{x:0,y:3,"text-anchor":"middle","font-size":9,"font-weight":"bold",fill:"#222",transform:`translate(${cp[0].toFixed(1)},${cp[1].toFixed(1)}) rotate(${am})`},g);
 
 
 // outer band
 const band=mk("path",{d:sector(292,307,a0+0.4,a1-0.4),fill:catColor[goCategory[i]]},g);
 
 
 const bp=P(299.5,am);const bt=txt(id,{x:0,y:3.5,"text-anchor":"middle","font-size":9.5,"font-weight":"bold",fill:"#222",transform:`translate(${bp[0].toFixed(1)},${bp[1].toFixed(1)}) rotate(${am})`},g);
 
 
 // axis arc & ticks
 const q0=P(308,a0+0.4),q1=P(308,a1-0.4);
 mk("path",{d:`M${q0[0].toFixed(1)},${q0[1].toFixed(1)} A308,308 0 0 1 ${q1[0].toFixed(1)},${q1[1].toFixed(1)}`,fill:"none",stroke:"#222","stroke-width":1.5},g);
 axisTickLabels.forEach((s,k)=>{const aa=a0+0.8+k*(seg-1.6)/4;const u=P(308,aa),v=P(312,aa);
  mk("line",{x1:u[0],y1:u[1],x2:v[0],y2:v[1],stroke:"#222","stroke-width":1},g);
  const lp=P(314,aa);const tl=txt(s,{x:0,y:3,"font-size":8,fill:"#333",transform:`translate(${lp[0].toFixed(1)},${lp[1].toFixed(1)}) rotate(${aa-90})`},g);
  
  });
});
// legend
const lg=mk("g",{},g);


[["BP",2847],["CC",2861],["MF",2875]].forEach(e=>{mk("rect",{x:1643,y:e[1],width:13,height:11,fill:catColor[e[0]]},lg);txt(e[0],{x:1661,y:e[1]+9,"font-size":8,fill:"#333"},lg);});
txt("- log\u2081\u2080(pvalue)",{x:1643,y:2910,"font-size":7.5,fill:"#333"},lg);
const defs=mk("defs",{},g);const gr=mk("linearGradient",{id:"eGrad",x1:0,y1:0,x2:0,y2:1},defs);
mk("stop",{offset:0,"stop-color":"#6e1a2a"},gr);mk("stop",{offset:0.5,"stop-color":"#c45a52"},gr);mk("stop",{offset:1,"stop-color":"#f4a582"},gr);
mk("rect",{x:1643,y:2918,width:14,height:62,fill:"url(#eGrad)"},lg);
["40","30","20","10","0"].forEach((s,k)=>txt(s,{x:1660,y:2923+k*14,"font-size":7.5,fill:"#333"},lg));
mk("rect",{x:1643,y:2994,width:14,height:13,fill:"#ee0a0a"},lg);
txt("up- regulated",{x:1661,y:3004,"font-size":7.5,fill:"#333"},lg);
})();
</script>
</body></html>
